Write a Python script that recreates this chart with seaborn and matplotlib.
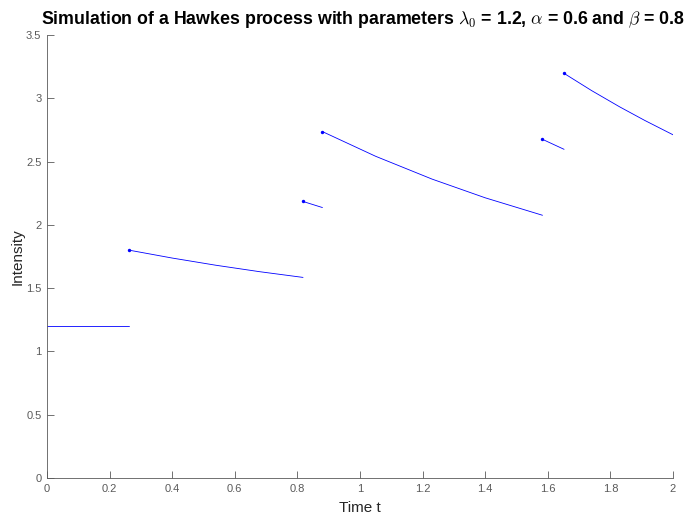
import matplotlib
matplotlib.use("Agg")
import matplotlib.pyplot as plt
import seaborn as sns
import pandas as pd

# Hawkes process intensity, piecewise between event times
seg_id = [0, 0,
          1, 1, 1, 1, 1,
          2, 2,
          3, 3, 3, 3, 3,
          4, 4,
          5, 5, 5, 5, 5]
time_t = [0.0, 0.263,
          0.263, 0.40, 0.54, 0.68, 0.818,
          0.818, 0.880,
          0.880, 1.05, 1.23, 1.40, 1.583,
          1.583, 1.652,
          1.652, 1.74, 1.83, 1.91, 2.0]
intensity = [1.2, 1.2,
             1.8, 1.738, 1.681, 1.630, 1.585,
             2.185, 2.137,
             2.737, 2.542, 2.362, 2.214, 2.076,
             2.676, 2.597,
             3.197, 3.061, 2.932, 2.825, 2.712]

# event times and intensity right after each jump
event_t = [0.263, 0.818, 0.880, 1.583, 1.652]
event_lambda = [1.8, 2.185, 2.737, 2.676, 3.197]

x_ticks = [0, 0.2, 0.4, 0.6, 0.8, 1, 1.2, 1.4, 1.6, 1.8, 2]
x_tick_labels = ["0", "0.2", "0.4", "0.6", "0.8", "1", "1.2", "1.4", "1.6", "1.8", "2"]
y_ticks = [0, 0.5, 1, 1.5, 2, 2.5, 3, 3.5]
y_tick_labels = ["0", "0.5", "1", "1.5", "2", "2.5", "3", "3.5"]

sns.set_theme(style="ticks")
plt.rcParams["font.family"] = ["Liberation Sans", "DejaVu Sans"]
plt.rcParams["mathtext.fontset"] = "cm"

df = pd.DataFrame({"seg": seg_id, "t": time_t, "lam": intensity})
ev = pd.DataFrame({"t": event_t, "lam": event_lambda})

fig = plt.figure(figsize=(6.88, 5.16), dpi=100)
ax = fig.add_axes([0.0683, 0.0736, 0.9099, 0.8585])

for s, g in df.groupby("seg"):
    sns.lineplot(data=g, x="t", y="lam", sort=False, color="#0000ff",
                 linewidth=0.6, ax=ax, legend=False, estimator=None)
sns.scatterplot(data=ev, x="t", y="lam", color="#0000ff", s=6,
                linewidth=0, ax=ax, legend=False, zorder=3)

axis_col = "#5a5a5a"
ax.set_xlim(0, 2)
ax.set_ylim(0, 3.5)
ax.set_xticks(x_ticks)
ax.set_xticklabels(x_tick_labels)
ax.set_yticks(y_ticks)
ax.set_yticklabels(y_tick_labels)
ax.tick_params(direction="in", length=5, width=0.6, colors=axis_col,
               labelsize=8, pad=4)
for side in ["top", "right"]:
    ax.spines[side].set_visible(False)
for side in ["left", "bottom"]:
    ax.spines[side].set_color(axis_col)
    ax.spines[side].set_linewidth(0.6)

ax.set_xlabel("Time t", fontsize=11, color="#262626", labelpad=5)
ax.set_ylabel("Intensity", fontsize=11, color="#262626", labelpad=1)
fig.text(0.528, 0.962,
         r"Simulation of a Hawkes process with parameters $\lambda_{\mathbf{0}}$ = 1.2, "
         r"$\alpha$ = 0.6 and $\beta$ = 0.8",
         fontsize=12.8, fontweight="bold", color="black", ha="center", va="center")

fig.savefig("out.png", dpi=100, facecolor="white")
